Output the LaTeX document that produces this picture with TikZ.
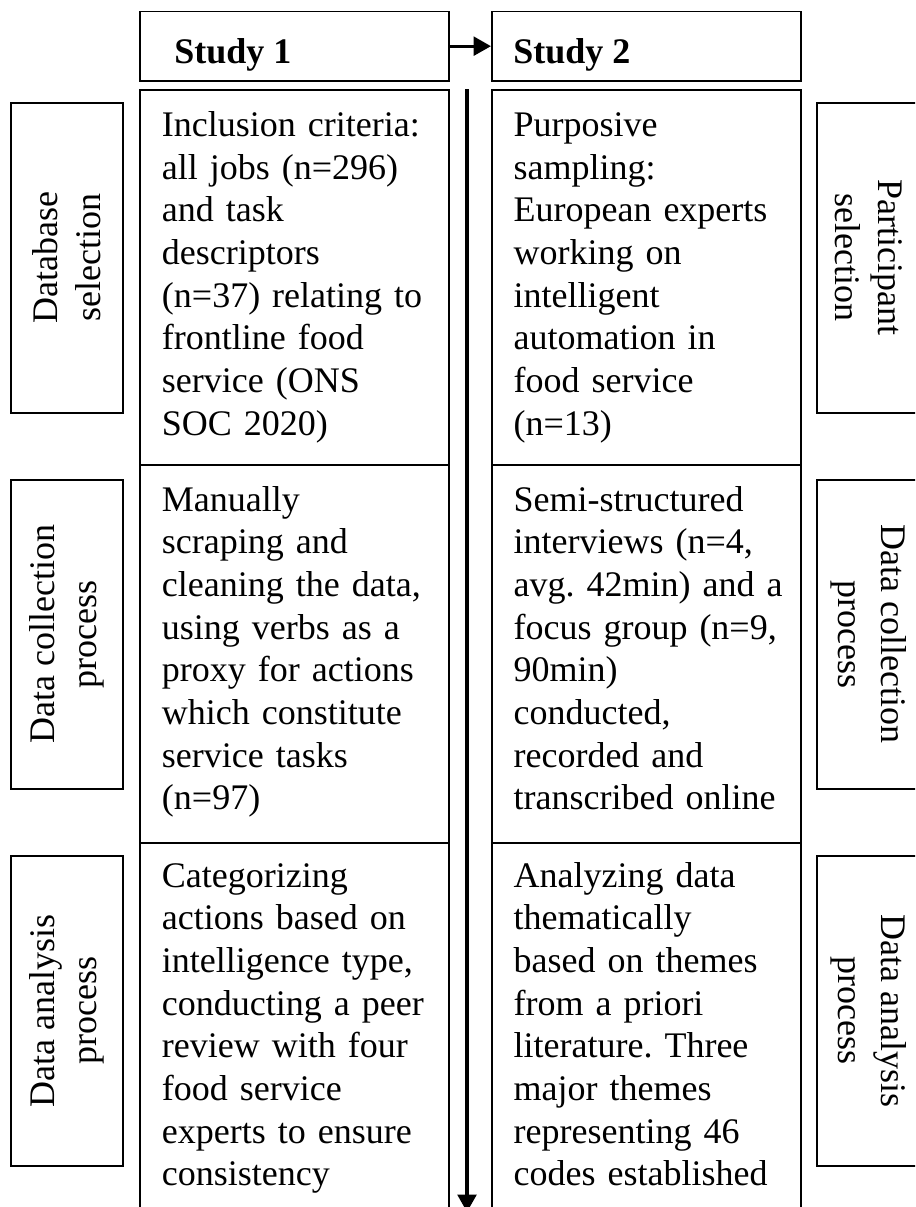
\documentclass[tikz,border=0pt]{standalone}
\usepackage{fontspec}
\setmainfont{Liberation Serif}
\usetikzlibrary{arrows.meta}
\frenchspacing
\begin{document}
\begin{tikzpicture}[x=0.75pt,y=-0.75pt,
  box/.style={draw, line width=1.2pt, rectangle, inner sep=0pt, anchor=north west},
  txt/.style={anchor=base west, inner sep=0pt, align=left, text width=260pt, font=\fontsize{27}{32}\selectfont\frenchspacing},
  lab/.style={inner sep=0pt, align=center, font=\fontsize{27}{32}\selectfont},
  ttl/.style={anchor=base west, inner sep=0pt, font=\fontsize{27}{32}\selectfont\bfseries},
  flow/.style={line width=2.4pt, -{Triangle[length=13pt,width=14pt]}}]
\useasboundingbox (0,0) rectangle (915,1207);
\clip (0,0) rectangle (915,1207);
% title boxes
\node[box, minimum width=231.75pt, minimum height=52pt] (s1) at (139,10.7) {};
\node[box, minimum width=231.75pt, minimum height=52pt] (s2) at (491,10.7) {};
\node[ttl] (s1t) at (174,63) {Study 1};
\node[ttl] (s2t) at (513,63) {Study 2};
% row boxes
\node[box, minimum width=231.75pt, minimum height=281.25pt] (l1) at (139,89) {};
\node[box, minimum width=231.75pt, minimum height=283.5pt] (l2) at (139,464) {};
\node[box, minimum width=231.75pt, minimum height=290pt] (l3) at (139,842) {};
\node[box, minimum width=231.75pt, minimum height=281.25pt] (r1) at (491,89) {};
\node[box, minimum width=231.75pt, minimum height=283.5pt] (r2) at (491,464) {};
\node[box, minimum width=231.75pt, minimum height=290pt] (r3) at (491,842) {};
% side label boxes
\node[box, minimum width=84pt, minimum height=232.5pt] (ls1) at (10,102) {};
\node[box, minimum width=84pt, minimum height=231.75pt] (ls2) at (10,479) {};
\node[box, minimum width=84pt, minimum height=232.5pt] (ls3) at (10,855) {};
\node[box, minimum width=84pt, minimum height=232.5pt] (rs1) at (816,102) {};
\node[box, minimum width=84pt, minimum height=231.75pt] (rs2) at (816,479) {};
\node[box, minimum width=84pt, minimum height=232.5pt] (rs3) at (816,855) {};
% side labels
\node[lab, rotate=90] (ls1t) at (ls1.center) {Database\\selection};
\node[lab, rotate=90] (ls2t) at (ls2.center) {Data collection\\process};
\node[lab, rotate=90] (ls3t) at (ls3.center) {Data analysis\\process};
\node[lab, rotate=-90] (rs1t) at ([xshift=-3pt]rs1.center) {Participant\\selection};
\node[lab, rotate=-90] (rs2t) at ([xshift=-3pt]rs2.center) {Data collection\\process};
\node[lab, rotate=-90] (rs3t) at ([xshift=-3pt]rs3.center) {Data analysis\\process};
% texts
\node[txt] (l1t) at (161.7,136.5) {Inclusion criteria:\\all jobs (n=296)\\and task\\descriptors\\(n=37) relating to\\frontline food\\service (ONS\\SOC 2020)};
\node[txt] (r1t) at (513.3,136.5) {Purposive\\sampling:\\European experts\\working on\\intelligent\\automation in\\food service\\(n=13)};
\node[txt] (l2t) at (161.7,511) {Manually\\scraping and\\cleaning the data,\\using verbs as a\\proxy for actions\\which constitute\\service tasks\\(n=97)};
\node[txt] (r2t) at (513.3,511) {Semi-structured\\interviews (n=4,\\avg. 42min) and a\\focus group (n=9,\\90min)\\conducted,\\recorded and\\transcribed online};
\node[txt] (l3t) at (161.7,887) {Categorizing\\actions based on\\intelligence type,\\conducting a peer\\review with four\\food service\\experts to ensure\\consistency};
\node[txt] (r3t) at (513.3,887) {Analyzing data\\thematically\\based on themes\\from a priori\\literature. Three\\major themes\\representing 46\\codes established};
% arrows
\draw[flow] (s1.east) -- (s2.west);
\coordinate (vtop) at (467,89);
\coordinate (vbot) at (467,1212);
\draw[flow] (vtop) -- (vbot);
\end{tikzpicture}
\end{document}
